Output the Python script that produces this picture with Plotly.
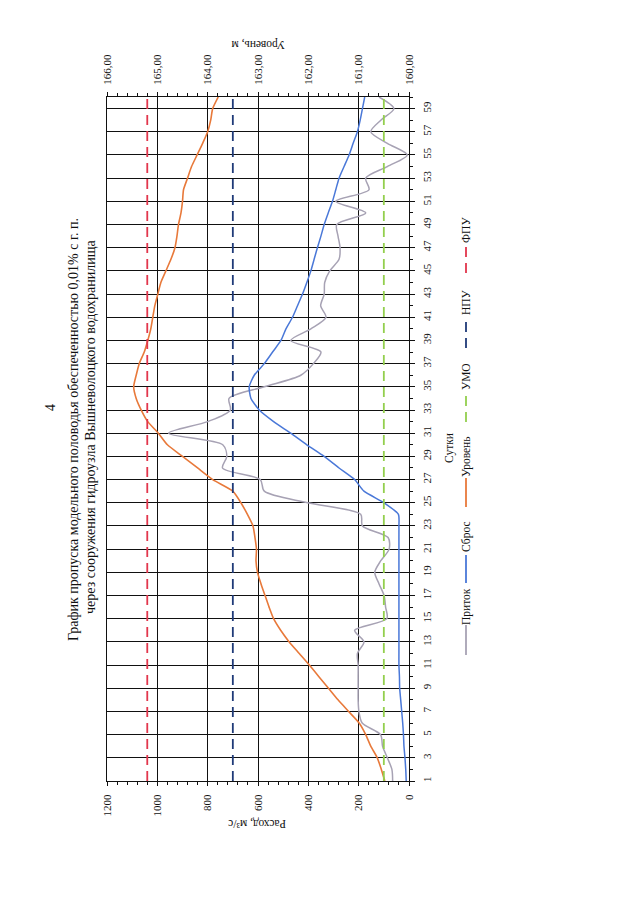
import plotly.graph_objects as go

# ---------------- data ----------------
days = list(range(1, 61))

pritok = [65, 68, 86, 105, 113, 186, 199, 202, 202, 202,
          202, 205, 179, 216, 88, 93, 99, 119, 136, 112,
          79, 83, 185, 192, 403, 575, 591, 741, 724, 740,
          955, 800, 710, 715, 575, 430, 380, 350, 470, 390,
          330, 351, 337, 335, 315, 278, 274, 282, 287, 172,
          291, 159, 172, 86, 7, 86, 152, 112, 60, 119]

sbros = [11, 13, 16, 20, 22, 25, 29, 33, 37, 38,
         40, 40, 40, 40, 40, 40, 40, 40, 40, 40,
         40, 40, 40, 42, 99, 179, 216, 278, 337, 406,
         470, 538, 595, 628, 635, 615, 575, 542, 509, 489,
         463, 443, 423, 406, 390, 377, 364, 350, 337, 321,
         304, 291, 278, 258, 238, 222, 205, 194, 185, 176]

uroven = [160.48, 160.55, 160.63, 160.76, 160.86, 160.99, 161.20, 161.41, 161.60, 161.79,
          161.98, 162.18, 162.38, 162.55, 162.69, 162.78, 162.86, 162.94, 163.01, 163.04,
          163.03, 163.06, 163.10, 163.21, 163.34, 163.50, 163.90, 164.20, 164.50, 164.80,
          164.98, 165.19, 165.32, 165.42, 165.47, 165.42, 165.36, 165.26, 165.19, 165.13,
          165.09, 165.05, 164.99, 164.93, 164.83, 164.73, 164.65, 164.61, 164.58, 164.53,
          164.50, 164.48, 164.40, 164.32, 164.21, 164.10, 164.00, 163.94, 163.90, 163.79]

umo_level = 160.5
npu_level = 163.5
fpu_level = 165.2

umo = [umo_level] * len(days)
npu = [npu_level] * len(days)
fpu = [fpu_level] * len(days)

day_ticks = list(range(1, 60, 2))
day_ticklabels = [str(d) for d in day_ticks]
rate_ticks = [0, 200, 400, 600, 800, 1000, 1200]
rate_ticklabels = ["0", "200", "400", "600", "800", "1000", "1200"]
level_ticks = [160, 161, 162, 163, 164, 165, 166]
level_ticklabels = ["160,00", "161,00", "162,00", "163,00", "164,00", "165,00", "166,00"]

series_names = ["Приток", "Сброс", "Уровень", "УМО", "НПУ", "ФПУ"]

title_line1 = "График пропуска модельного половодья обеспеченностью 0,01% с г. п."
title_line2 = "через сооружения гидроузла Вышневолоцкого водохранилища"
page_number = "4"

# ---------------- styles ----------------
FONT = "Liberation Serif"
C_PRITOK = "#A7A2B4"
C_SBROS = "#4A78D8"
C_UROVEN = "#E8793A"
C_UMO = "#93CF4E"
C_NPU = "#1F3A78"
C_FPU = "#E2364C"
DASH = "10px,6px"

OFF = 8  # page body margin
W, H = 640 - OFF, 901 - OFF
# plot area in screen pixels
SL, SR, ST, SB = 107, 409, 97, 781
L, R, T, B = SL - OFF, SR - OFF, ST - OFF, SB - OFF


def px(xs):
    return (xs - SL) / (SR - SL)


def py(ys):
    return (SB - ys) / (SB - ST)


fig = go.Figure()

fig.add_trace(go.Scatter(x=pritok, y=days, mode="lines", name=series_names[0],
                         line=dict(color=C_PRITOK, width=1.5, shape="spline", smoothing=0.8),
                         xaxis="x", yaxis="y"))
fig.add_trace(go.Scatter(x=sbros, y=days, mode="lines", name=series_names[1],
                         line=dict(color=C_SBROS, width=1.5, shape="spline", smoothing=0.6),
                         xaxis="x", yaxis="y"))
fig.add_trace(go.Scatter(x=uroven, y=days, mode="lines", name=series_names[2],
                         line=dict(color=C_UROVEN, width=1.6, shape="spline", smoothing=0.6),
                         xaxis="x2", yaxis="y"))
fig.add_trace(go.Scatter(x=umo, y=days, mode="lines", name=series_names[3],
                         line=dict(color=C_UMO, width=1.8, dash=DASH),
                         xaxis="x2", yaxis="y"))
fig.add_trace(go.Scatter(x=npu, y=days, mode="lines", name=series_names[4],
                         line=dict(color=C_NPU, width=1.8, dash=DASH),
                         xaxis="x2", yaxis="y"))
fig.add_trace(go.Scatter(x=fpu, y=days, mode="lines", name=series_names[5],
                         line=dict(color=C_FPU, width=1.8, dash=DASH),
                         xaxis="x2", yaxis="y"))

tickfont = dict(family=FONT, size=11, color="#111")

fig.update_layout(
    width=W, height=H,
    margin=dict(l=L, r=W - R, t=T, b=H - B, pad=0),
    paper_bgcolor="white", plot_bgcolor="white",
    showlegend=False,
    xaxis=dict(range=[1200, 0], tickmode="array", tickvals=rate_ticks, ticktext=rate_ticklabels,
               tickangle=-90, tickfont=tickfont, side="bottom",
               showgrid=True, gridcolor="#111", gridwidth=1.2,
               showline=True, linecolor="#111", linewidth=1.2, mirror=False,
               ticks="outside", ticklen=4, tickcolor="#111", ticklabelstandoff=4,
               minor=dict(dtick=40, tick0=0, ticks="outside", ticklen=3, tickcolor="#111", showgrid=False),
               zeroline=False, fixedrange=True),
    xaxis2=dict(range=[166, 160], overlaying="x", side="top", tickmode="array",
                tickvals=level_ticks, ticktext=level_ticklabels,
                tickangle=-90, tickfont=tickfont,
                showgrid=False, showline=True, linecolor="#111", linewidth=1.2,
                ticks="outside", ticklen=4, tickcolor="#111", ticklabelstandoff=5,
                minor=dict(dtick=0.2, tick0=160, ticks="outside", ticklen=3, tickcolor="#111"),
                zeroline=False, fixedrange=True),
    yaxis=dict(range=[1, 60], side="right", tickmode="array", tickvals=day_ticks,
               ticktext=day_ticklabels, tickangle=-90, tickfont=tickfont,
               showgrid=True, gridcolor="#111", gridwidth=1.2,
               showline=True, linecolor="#111", linewidth=1.2, mirror=True,
               ticks="outside", ticklen=5, tickcolor="#111", ticklabelstandoff=3,
               minor=dict(dtick=1, tick0=1, ticks="outside", ticklen=3, tickcolor="#111", showgrid=False),
               zeroline=False, fixedrange=True),
)

ann = []
tfont = dict(family=FONT, size=14, color="#111")
ann.append(dict(text=page_number, x=px(50), y=py(408), textangle=-90, font=tfont))
ann.append(dict(text=title_line1, x=px(73), y=py(430), textangle=-90, font=tfont))
ann.append(dict(text=title_line2, x=px(91), y=py(427), textangle=-90, font=tfont))
afont = dict(family=FONT, size=11.5, color="#111")
ann.append(dict(text="Расход, м³/с", x=px(257), y=py(824), textangle=180, font=afont))
ann.append(dict(text="Уровень, м", x=px(258), y=py(45), textangle=180, font=afont))
ann.append(dict(text="Сутки", x=px(450), y=py(448), textangle=-90, font=afont))

# custom rotated legend
legend_colors = [C_PRITOK, C_SBROS, C_UROVEN, C_UMO, C_NPU, C_FPU]
legend_dash = ["solid", "solid", "solid", DASH, DASH, DASH]
legend_line_y = [(655, 625), (583, 555), (507, 478), (422, 393), (348, 318), (273, 243)]
legend_text_y = [607, 537, 457, 377, 302, 230]
lx = 466
shapes = []
for name, col, dsh, (ya, yb), ty in zip(series_names, legend_colors, legend_dash,
                                         legend_line_y, legend_text_y):
    shapes.append(dict(type="line", xref="paper", yref="paper",
                       x0=px(lx), x1=px(lx), y0=py(ya), y1=py(yb),
                       line=dict(color=col, width=1.8, dash=dsh)))
    ann.append(dict(text=name, x=px(lx), y=py(ty), textangle=-90, font=afont))

for a in ann:
    a.update(xref="paper", yref="paper", showarrow=False, xanchor="center", yanchor="middle")

fig.update_layout(annotations=ann, shapes=shapes)

fig.write_html("out.html")
